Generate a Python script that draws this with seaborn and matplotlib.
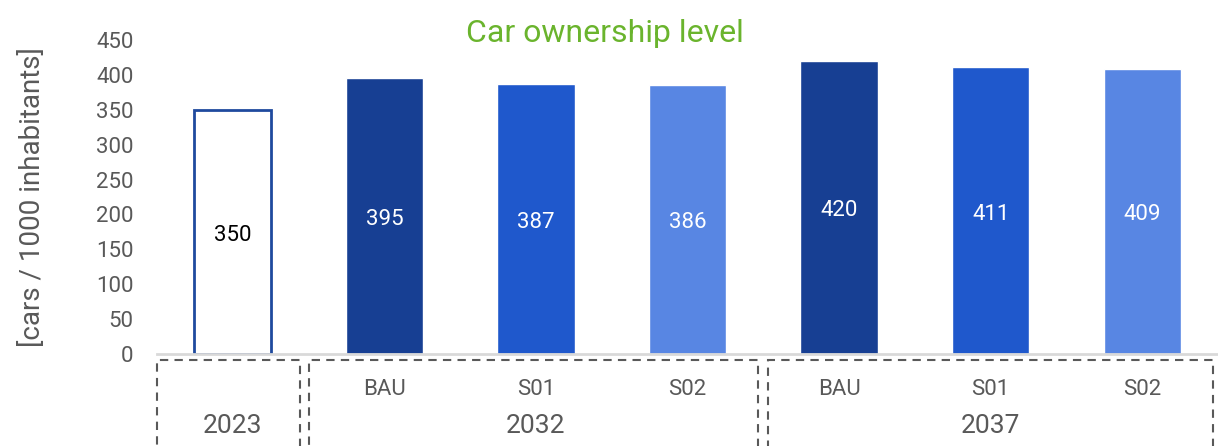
import matplotlib
matplotlib.use("Agg")
import matplotlib.pyplot as plt
import matplotlib.transforms as mtransforms
from matplotlib.patches import Rectangle
from matplotlib import font_manager
import seaborn as sns
import pandas as pd

categories = ["2023", "BAU32", "S0132", "S0232", "BAU37", "S0137", "S0237"]
tick_labels = ["", "BAU", "S01", "S02", "BAU", "S01", "S02"]
values = [350, 395, 387, 386, 420, 411, 409]
groups = ["2023", "2032", "2037"]
bar_colors = ["#FFFFFF", "#173F93", "#1F58CC", "#5886E3", "#173F93", "#1F58CC", "#5886E3"]

sns.set_theme(style="white")
avail = {f.name for f in font_manager.fontManager.ttflist}
fam = "Liberation Sans Narrow" if "Liberation Sans Narrow" in avail else "Roboto"
plt.rcParams["font.family"] = [fam, "DejaVu Sans"]

fig = plt.figure(figsize=(12.18, 4.46), dpi=100)
ax = fig.add_axes([0.1289, 0.2063, 0.8711, 0.704])

df = pd.DataFrame({"cat": categories, "val": values})
sns.barplot(data=df, x="cat", y="val", hue="cat", palette=bar_colors,
            legend=False, width=0.51, ax=ax, saturation=1)
bars = ax.patches
bars[0].set_edgecolor("#1F4A9E")
bars[0].set_linewidth(2)

for i, (b, v) in enumerate(zip(bars, values)):
    ax.text(b.get_x() + b.get_width() / 2, v / 2 - 5, str(v), ha="center", va="center",
            fontsize=16, color="black" if i == 0 else "white")

ax.set_xlim(-0.5, 6.5)
ax.set_ylim(0, 450)
ax.set_yticks(range(0, 451, 50))
ax.tick_params(axis="y", labelsize=16, labelcolor="#595959", length=0, pad=17)
ax.set_xticks(range(len(categories)))
ax.set_xticklabels(tick_labels, fontsize=16, color="#595959")
ax.tick_params(axis="x", length=0, pad=18)
for s in ["top", "right", "left"]:
    ax.spines[s].set_visible(False)
ax.spines["bottom"].set_color("#D9D9D9")
ax.spines["bottom"].set_linewidth(2)
ax.set_xlabel("")
ax.set_ylabel("[cars / 1000 inhabitants]", fontsize=20, color="#595959")
ax.yaxis.set_label_coords(-0.105, 0.5)

fig.text(0.497, 0.925, "Car ownership level", ha="center", va="center",
         fontsize=23, color="#6AB42D")

trans = mtransforms.blended_transform_factory(ax.transData, ax.transAxes)
boxes = [(-0.5, 0.443), (0.503, 3.464), (3.53, 6.47)]
ypos = [0.0, 2.0, 5.0]
for (x0, x1), xc, g in zip(boxes, ypos, groups):
    r = Rectangle((x0, -0.4), x1 - x0, 0.38, transform=trans, fill=False,
                  edgecolor="#595959", linestyle=(0, (4, 3)), linewidth=1.5, clip_on=False)
    ax.add_patch(r)
    ax.text(xc, -0.23, g, transform=trans, ha="center", va="center",
            fontsize=19, color="#595959")

fig.savefig("out.png", dpi=100)
